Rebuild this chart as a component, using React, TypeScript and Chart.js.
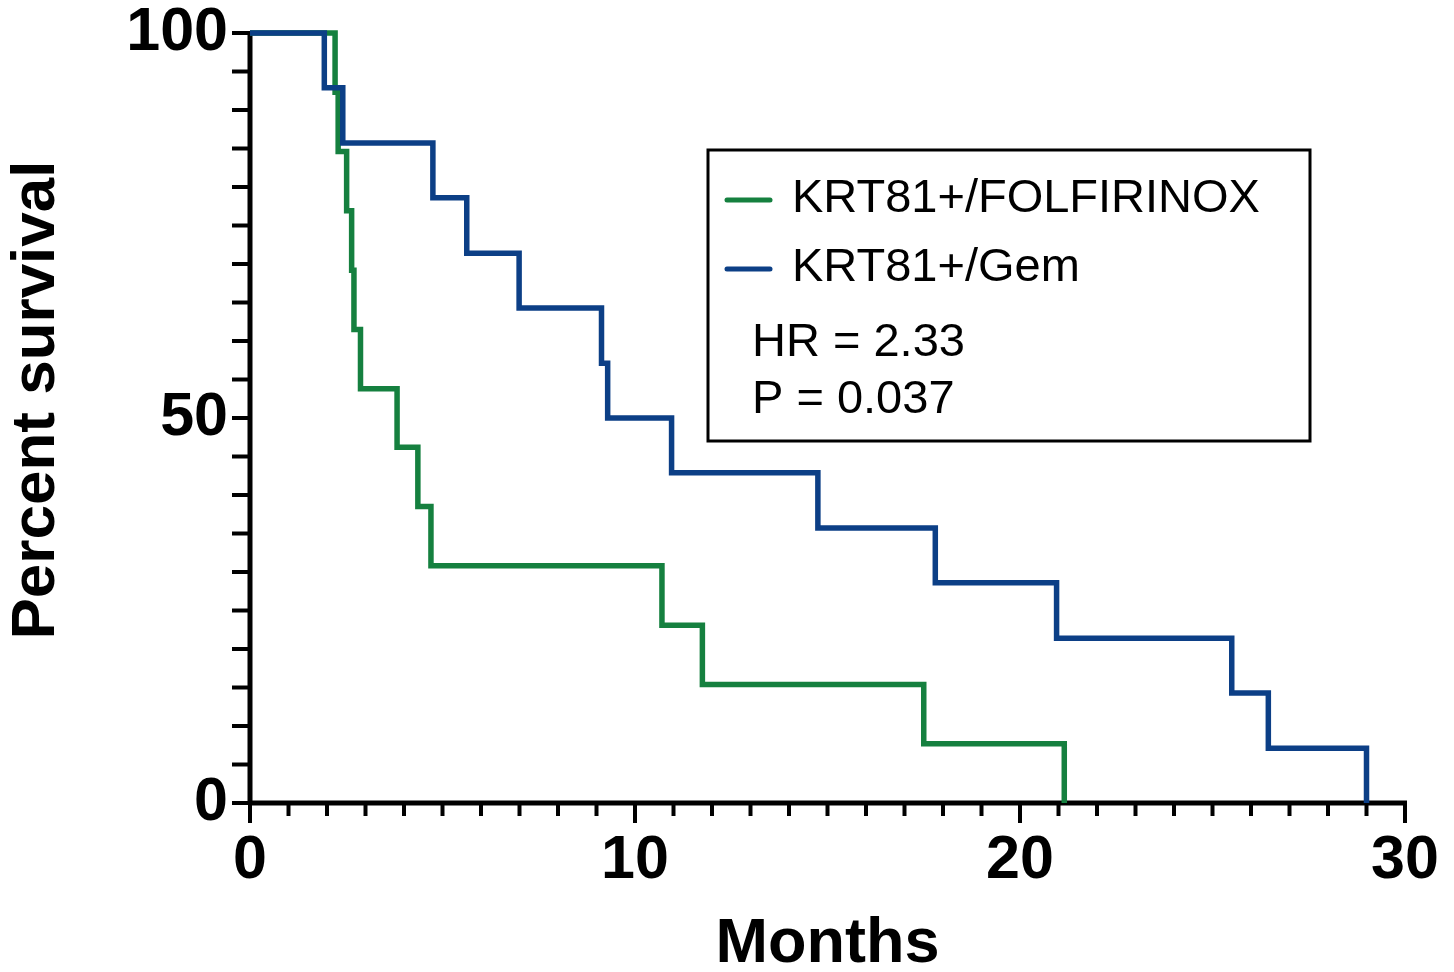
import React, { useEffect, useRef } from 'react';
import { Chart, registerables } from 'chart.js';

Chart.register(...registerables);

// Kaplan–Meier step data (months, percent survival)
const folfirinoxMonths = [0, 2.21, 2.29, 2.51, 2.64, 2.7, 2.87, 3.82, 4.36, 4.7, 10.7, 11.75, 17.5, 21.15];
const folfirinoxSurvival = [100, 92.3, 84.6, 76.9, 69.2, 61.5, 53.8, 46.2, 38.5, 30.8, 23.1, 15.4, 7.7, 0];
const gemMonths = [0, 1.93, 2.41, 4.75, 5.63, 6.99, 9.13, 9.29, 10.95, 14.75, 17.8, 20.95, 25.5, 26.45, 29.0];
const gemSurvival = [100, 92.9, 85.7, 78.6, 71.4, 64.3, 57.1, 50, 42.9, 35.7, 28.6, 21.4, 14.3, 7.1, 0];

const seriesLabels = ['KRT81+/FOLFIRINOX', 'KRT81+/Gem'];
const seriesColors = ['#15803f', '#0c3f86'];
const statLines = ['HR = 2.33', 'P = 0.037'];

const xMin = 0, xMax = 30, xMajorStep = 10, xMinorStep = 1;
const yMin = 0, yMax = 100, yMajorStep = 50, yMinorStep = 5;

const FONT = '"Liberation Sans", Arial, Helvetica, sans-serif';

const axesPlugin = {
  id: 'kmAxes',
  beforeDatasetsDraw(chart: any) {
    const { ctx, scales } = chart;
    const x = scales.x, y = scales.y;
    const x0 = x.getPixelForValue(xMin);
    const xE = x.getPixelForValue(xMax);
    const y0 = y.getPixelForValue(yMin);
    const yT = y.getPixelForValue(yMax);
    ctx.save();
    ctx.strokeStyle = '#000';
    ctx.lineCap = 'butt';
    ctx.lineWidth = 5;
    ctx.beginPath();
    ctx.moveTo(x0, yT - 2);
    ctx.lineTo(x0, y0);
    ctx.stroke();
    ctx.beginPath();
    ctx.moveTo(x0 - 2, y0);
    ctx.lineTo(xE + 2, y0);
    ctx.stroke();
    ctx.lineWidth = 4;
    for (let v = yMin; v <= yMax; v += yMinorStep) {
      const py = y.getPixelForValue(v);
      ctx.beginPath();
      ctx.moveTo(x0 - 18, py);
      ctx.lineTo(x0, py);
      ctx.stroke();
    }
    for (let m = xMin; m <= xMax; m += xMinorStep) {
      const px = x.getPixelForValue(m);
      const len = m % xMajorStep === 0 ? 20 : 13;
      ctx.beginPath();
      ctx.moveTo(px, y0);
      ctx.lineTo(px, y0 + len);
      ctx.stroke();
    }
    ctx.restore();
  },
};

const legendPlugin = {
  id: 'kmLegend',
  afterDraw(chart: any) {
    const { ctx, chartArea } = chart;
    const left = chartArea.left + 458;
    const top = chartArea.top + 117;
    const w = 602;
    const h = 291;
    ctx.save();
    ctx.strokeStyle = '#000';
    ctx.lineWidth = 3;
    ctx.strokeRect(left, top, w, h);
    ctx.font = `47px ${FONT}`;
    ctx.textBaseline = 'middle';
    ctx.textAlign = 'left';
    ctx.fillStyle = '#000';
    seriesLabels.forEach((label, i) => {
      const cy = top + 50 + i * 69;
      ctx.strokeStyle = seriesColors[i];
      ctx.lineWidth = 5;
      ctx.lineCap = 'round';
      ctx.beginPath();
      ctx.moveTo(left + 19, cy);
      ctx.lineTo(left + 62, cy);
      ctx.stroke();
      ctx.fillText(label, left + 84, cy - 1);
    });
    statLines.forEach((t, i) => {
      ctx.fillText(t, left + 44, top + 193 + i * 57);
    });
    // y-axis title
    ctx.font = `bold 62px ${FONT}`;
    ctx.textAlign = 'center';
    ctx.translate(chartArea.left - 213, chartArea.top + 367);
    ctx.rotate(-Math.PI / 2);
    ctx.fillText('Percent survival', 0, 0);
    ctx.restore();
  },
};

export default function App() {
  const ref = useRef<HTMLCanvasElement | null>(null);
  useEffect(() => {
    if (!ref.current) return;
    const toPoints = (xs: number[], ys: number[]) => xs.map((v, i) => ({ x: v, y: ys[i] }));
    const chart = new Chart(ref.current, {
      type: 'line',
      data: {
        datasets: [
          {
            label: seriesLabels[0],
            data: toPoints(folfirinoxMonths, folfirinoxSurvival),
            borderColor: seriesColors[0],
            borderWidth: 5.5,
            stepped: 'before',
            pointRadius: 0,
            fill: false,
            clip: false as any,
            order: 1,
            borderCapStyle: 'butt',
            borderJoinStyle: 'miter',
          },
          {
            label: seriesLabels[1],
            data: toPoints(gemMonths, gemSurvival),
            borderColor: seriesColors[1],
            borderWidth: 5.5,
            stepped: 'before',
            pointRadius: 0,
            fill: false,
            clip: false as any,
            order: 0,
            borderCapStyle: 'butt',
            borderJoinStyle: 'miter',
          },
        ],
      },
      options: {
        animation: false,
        responsive: false,
        devicePixelRatio: 1,
        layout: { padding: { top: 33, right: 49, left: 0, bottom: 0 } },
        plugins: { legend: { display: false }, tooltip: { enabled: false } },
        scales: {
          x: {
            type: 'linear',
            min: xMin,
            max: xMax,
            afterFit(scale: any) {
              scale.height = 169;
              scale.paddingLeft = 0;
              scale.paddingRight = 0;
            },
            grid: { display: false, drawTicks: false },
            border: { display: false },
            ticks: {
              stepSize: xMajorStep,
              padding: 22,
              color: '#000',
              font: { family: FONT, size: 61, weight: 'bold' },
              maxRotation: 0,
            },
            title: {
              display: true,
              text: 'Months',
              color: '#000',
              font: { family: FONT, size: 63, weight: 'bold', lineHeight: 1 },
              padding: { top: 0, bottom: -4 },
            },
          },
          y: {
            type: 'linear',
            min: yMin,
            max: yMax,
            afterFit(scale: any) {
              scale.width = 250;
              scale.paddingTop = 0;
              scale.paddingBottom = 0;
            },
            grid: { display: false, drawTicks: false },
            border: { display: false },
            ticks: {
              stepSize: yMajorStep,
              padding: 22,
              color: '#000',
              font: { family: FONT, size: 61, weight: 'bold' },
            },
          },
        },
      },
      plugins: [axesPlugin, legendPlugin],
    });
    return () => chart.destroy();
  }, []);
  return (
    <div style={{ position: 'fixed', left: 0, top: 0, width: 1454, height: 972, background: '#fff' }}>
      <canvas ref={ref} width={1454} height={972} style={{ display: 'block' }} />
    </div>
  );
}
